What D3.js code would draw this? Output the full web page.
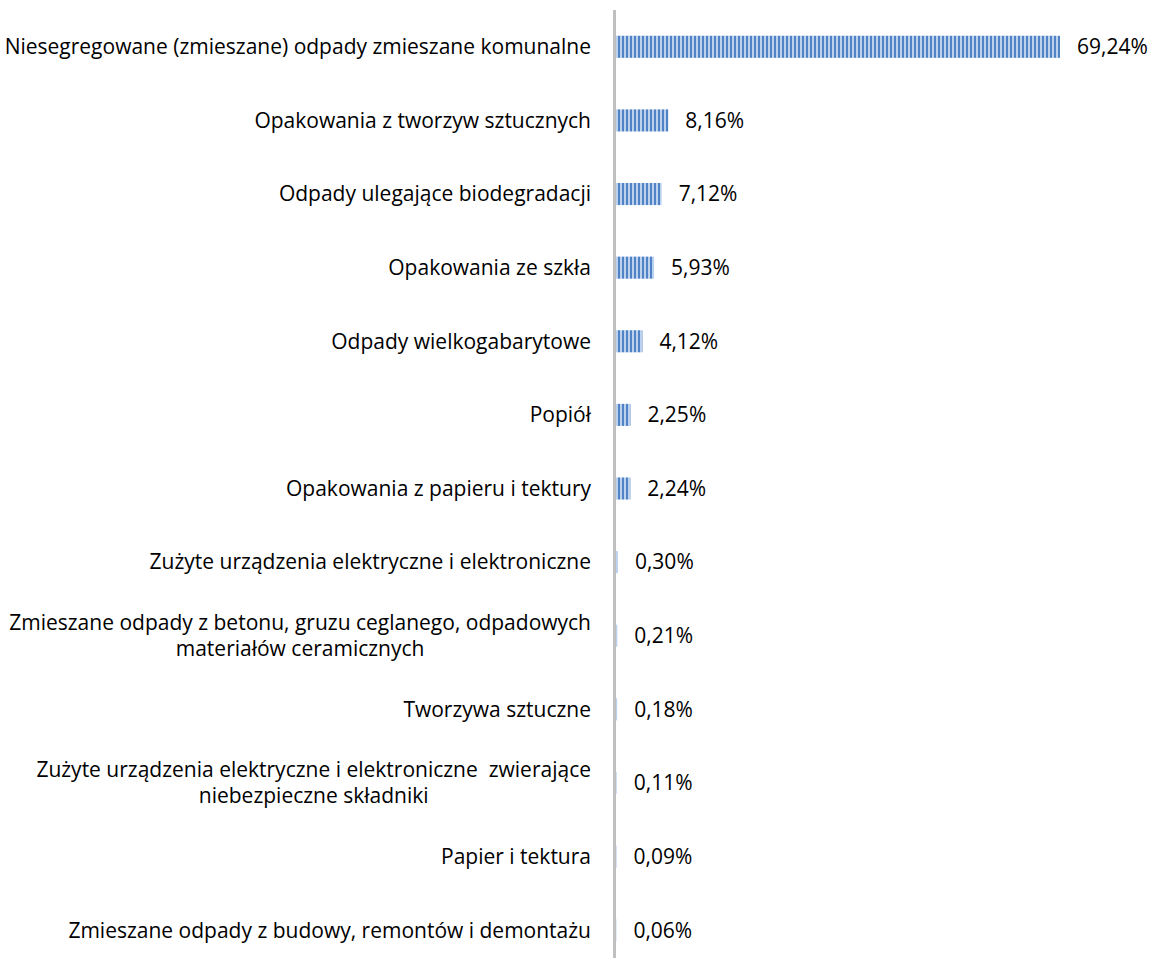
<!DOCTYPE html>
<html lang="pl">
<head>
<meta charset="UTF-8">
<title>Odpady</title>
<script src="https://cdn.jsdelivr.net/npm/d3@7"></script>
<style>
  html, body { margin: 0; background: #fff; }
  text { font-family: "Open Sans", Lato, sans-serif; fill: #000; white-space: pre; }
  .cat { font-size: 21px; }
  .val { font-size: 21px; }
</style>
</head>
<body>
<svg id="chart"></svg>
<script>
// data
const categories = [
  'Niesegregowane (zmieszane) odpady zmieszane komunalne',
  'Opakowania z tworzyw sztucznych',
  'Odpady ulegające biodegradacji',
  'Opakowania ze szkła',
  'Odpady wielkogabarytowe',
  'Popiół',
  'Opakowania z papieru i tektury',
  'Zużyte urządzenia elektryczne i elektroniczne',
  'Zmieszane odpady z betonu, gruzu ceglanego, odpadowych\nmateriałów ceramicznych',
  'Tworzywa sztuczne',
  'Zużyte urządzenia elektryczne i elektroniczne  zwierające\nniebezpieczne składniki',
  'Papier i tektura',
  'Zmieszane odpady z budowy, remontów i demontażu'
]
const shares = [69.24, 8.16, 7.12, 5.93, 4.12, 2.25, 2.24, 0.30, 0.21, 0.18, 0.11, 0.09, 0.06]

const W = 1153, H = 958
const svg = d3.select('#chart').attr('width', W).attr('height', H)

const axisX = 614.5
const labelRight = 591

const y = d3.scaleBand()
  .domain(categories)
  .range([10, 967])
  .paddingInner(0.7)
  .paddingOuter(0.35)

const x = d3.scaleLinear()
  .domain([0, 69.24])
  .range([616, 1060])

// stripe pattern like the original fill
const pat = svg.append('defs').append('pattern')
  .attr('id', 'stripes')
  .attr('patternUnits', 'userSpaceOnUse')
  .attr('x', x(0))
  .attr('width', 4).attr('height', 10)
pat.append('rect').attr('width', 4).attr('height', 10).attr('fill', '#bcd1ee')
pat.append('rect').attr('x', 2).attr('width', 2).attr('height', 10).attr('fill', '#4f83c6')

// bars
svg.selectAll('rect.bar')
  .data(shares)
  .enter()
  .append('rect')
  .attr('class', 'bar')
  .attr('x', x(0))
  .attr('y', (d, i) => y(categories[i]))
  .attr('width', d => x(d) - x(0))
  .attr('height', y.bandwidth())
  .attr('fill', 'url(#stripes)')

// axis line
const axis = svg.append('g')
  .attr('transform', `translate(${axisX},0)`)
  .call(d3.axisLeft(y).tickSize(0).tickFormat(''))
axis.select('.domain')
  .attr('d', `M0,10V${H}`)
  .attr('stroke', '#bfbfbf')
  .attr('stroke-width', 3)

// value labels
const fmt = d => d3.format('.2f')(d).replace('.', ',') + '%'
svg.selectAll('text.val')
  .data(shares)
  .enter()
  .append('text')
  .attr('class', 'val')
  .attr('x', d => x(d) + 17)
  .attr('y', (d, i) => y(categories[i]) + y.bandwidth() / 2)
  .attr('dy', '0.35em')
  .text(fmt)

// category labels (multi-line ones centred on their widest line)
categories.forEach(c => {
  const lines = c.split('\n')
  const cy = y(c) + y.bandwidth() / 2
  const lineH = 26
  const t = svg.append('text').attr('class', 'cat')
  lines.forEach((l, j) => {
    t.append('tspan')
      .attr('y', cy + (j - (lines.length - 1) / 2) * lineH)
      .attr('dy', '0.35em')
      .text(l)
  })
  if (lines.length === 1) {
    t.attr('text-anchor', 'end').selectAll('tspan').attr('x', labelRight)
  } else {
    const wMax = d3.max(t.selectAll('tspan').nodes(), n => n.getComputedTextLength())
    t.attr('text-anchor', 'middle').selectAll('tspan').attr('x', labelRight - wMax / 2)
  }
})
</script>
</body>
</html>
